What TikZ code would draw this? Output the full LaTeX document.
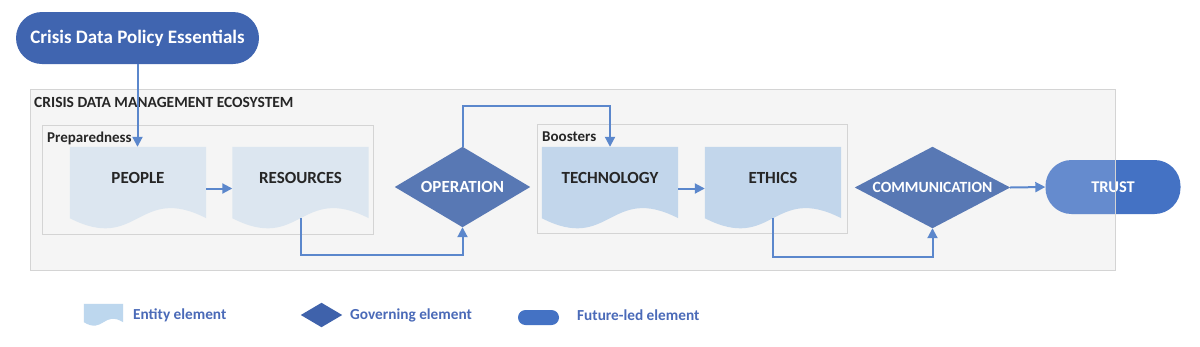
\documentclass[tikz,border=0pt]{standalone}
\usepackage{fontspec}
\setmainfont{Carlito}
\usetikzlibrary{calc,arrows.meta}
\definecolor{boxfill}{HTML}{F5F5F5}
\definecolor{boxline}{HTML}{D4D4D4}
\definecolor{docA}{HTML}{DCE6F0}
\definecolor{docB}{HTML}{C2D6EB}
\definecolor{govfill}{HTML}{5878B4}
\definecolor{topfill}{HTML}{4065B0}
\definecolor{trustfill}{HTML}{4472C4}
\definecolor{arrcol}{HTML}{5B87CC}
\definecolor{legtext}{HTML}{4A6AB8}
\definecolor{legdia}{HTML}{3F62AB}
\definecolor{legdoc}{HTML}{BDD7EE}
\newcommand{\docfill}[2]{%
  \fill[#2] (#1.north west) -- (#1.north east) -- (#1.south east)
    .. controls ($(#1.south)+(0,-35)$) and ($(#1.south)+(0,35)$) .. (#1.south west) -- cycle;}
\newcommand{\diafill}[2]{%
  \fill[#2] (#1.north) -- (#1.east) -- (#1.south) -- (#1.west) -- cycle;}
\begin{document}
\begin{tikzpicture}[x=1pt,y=-1pt,
  docbox/.style={rectangle,inner sep=0pt,minimum width=136pt,minimum height=71pt},
  doclabel/.style={font=\bfseries\fontsize{17}{20}\selectfont,text=black!85},
  diabox/.style={rectangle,inner sep=0pt,font=\bfseries\fontsize{17}{20}\selectfont,text=white},
  pill/.style={rectangle,rounded corners=26pt,inner sep=0pt,font=\bfseries\fontsize{16.4}{19}\selectfont,text=white},
  grp/.style={draw=boxline,line width=1pt},
  grplabel/.style={anchor=west,inner sep=0pt,font=\bfseries\fontsize{15}{18}\selectfont,text=black!85},
  arr/.style={draw=arrcol,line width=2pt,-{Triangle[length=10pt,width=10pt]}},
  legtxt/.style={anchor=west,inner sep=0pt,font=\bfseries\fontsize{15.3}{18}\selectfont,text=legtext}
]
\useasboundingbox (0,0) rectangle (1200,346);
\fill[white] (0,0) rectangle (1200,346);

% ecosystem box
\fill[boxfill] (30,89) rectangle (1115,270);
\node[grplabel,font=\bfseries\fontsize{15.5}{18}\selectfont] (ecolabel) at (34,102) {CRISIS DATA MANAGEMENT ECOSYSTEM};

% group boxes
\draw[grp] (42,125) rectangle (373,234);
\node[grplabel] (prep) at (47,138) {Preparedness};
\draw[grp] (537,124) rectangle (847,233);
\node[grplabel] (boost) at (542,137) {Boosters};

% document nodes
\node[docbox] (people) at (138,182.5) {};
\node[docbox] (res) at (300.5,182.5) {};
\node[docbox] (tech) at (610,182.5) {};
\node[docbox] (eth) at (773,182.5) {};
\docfill{people}{docA}
\docfill{res}{docA}
\docfill{tech}{docB}
\docfill{eth}{docB}
\node[doclabel] at ([yshift=5pt]people.center) {PEOPLE};
\node[doclabel] at ([yshift=5pt]res.center) {RESOURCES};
\node[doclabel] at ([yshift=5pt]tech.center) {TECHNOLOGY};
\node[doclabel] at ([yshift=5pt]eth.center) {ETHICS};

% diamonds
\node[diabox,minimum width=135pt,minimum height=80pt] (op) at (462.5,187) {};
\diafill{op}{govfill}
\node[diabox] at (op.center) {OPERATION};
\node[diabox,minimum width=155pt,minimum height=81pt] (comm) at (932.5,187.5) {};
\diafill{comm}{govfill}
\node[diabox,font=\bfseries\fontsize{15.6}{19}\selectfont] at (comm.center) {COMMUNICATION};

% pills
\node[pill,fill=topfill,minimum width=243pt,minimum height=52pt,font=\bfseries\fontsize{19}{22}\selectfont] (top) at (137.5,38) {Crisis Data Policy Essentials};
\node[pill,fill=trustfill,minimum width=135pt,minimum height=54pt] (trust) at (1113,187) {};
\begin{scope}
\clip (30,89) rectangle (1115,270);
\fill[white,opacity=0.18,rounded corners=26pt] (trust.north west) rectangle (trust.south east);
\end{scope}
\node[pill,text=white] at (trust.center) {TRUST};

% ecosystem border on top
\draw[boxline,line width=1pt] (30,89) rectangle (1115,270);

% connectors
\draw[arr] (top.south) -- (top.south |- people.north);
\draw[arr] ([yshift=-6pt]people.east) -- ([yshift=-6pt]res.west);
\draw[arr] (res.south) -- ++(0,37) -| (op.south);
\draw[arr] (op.north) -- ++(0,-41) -| (tech.north);
\draw[arr] ([yshift=-6pt]tech.east) -- ([yshift=-6pt]eth.west);
\draw[arr] (eth.south) -- ++(0,39) -| (comm.south);
\draw[arr] (comm.east) -- (trust.west);

% legend
\node[rectangle,inner sep=0pt,minimum width=39pt,minimum height=18pt] (legdocn) at (103.5,313) {};
\fill[legdoc] (legdocn.north west) -- (legdocn.north east) -- (legdocn.south east)
  .. controls ($(legdocn.south)+(0,-12)$) and ($(legdocn.south)+(0,12)$) .. (legdocn.south west) -- cycle;
\node[legtxt] (legdoct) at (133,315) {Entity element};
\node[rectangle,inner sep=0pt,minimum width=41pt,minimum height=24pt] (legdian) at (321.5,315) {};
\diafill{legdian}{legdia}
\node[legtxt] (legdiat) at (350,315) {Governing element};
\node[rectangle,rounded corners=7.5pt,fill=trustfill,inner sep=0pt,minimum width=41pt,minimum height=15pt] (legpill) at (538.5,317.5) {};
\node[legtxt] (legpillt) at (577,315) {Future-led element};
\end{tikzpicture}
\end{document}
